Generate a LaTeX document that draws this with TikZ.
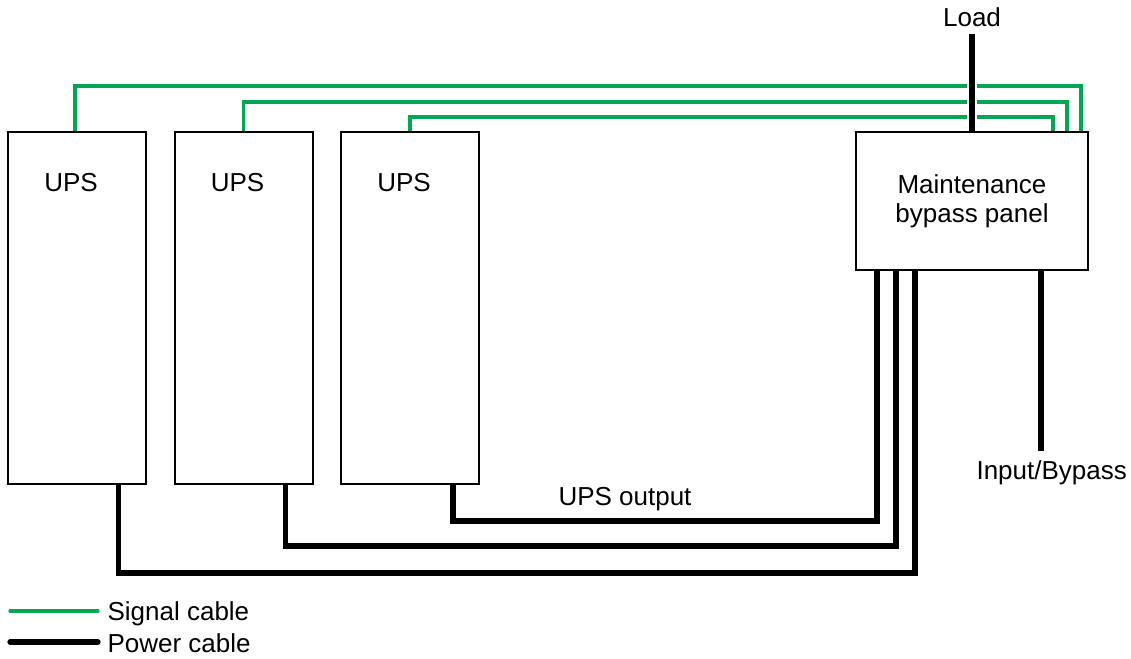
\documentclass[tikz,border=0pt]{standalone}
\usepackage{fontspec}
\setmainfont{Liberation Sans}
\usetikzlibrary{
    calc,
    positioning
}
\definecolor{ink}{RGB}{0,0,0}
\definecolor{signalgreen}{RGB}{0,166,81}
\tikzset{
    unitbox/.style={
        rectangle,
        draw=ink,
        line width=1.5pt,
        fill=white,
        inner sep=0pt
    },
    upsbox/.style={
        unitbox,
        minimum width=103.5pt,
        minimum height=264pt
    },
    panelbox/.style={
        unitbox,
        minimum width=174pt,
        minimum height=103.5pt,
        align=center,
        font=\fontsize{19.5}{22}\selectfont
    },
    boxtext/.style={
        font=\fontsize{19.5}{22}\selectfont,
        text=ink,
        inner sep=0pt
    },
    signal/.style={
        draw=signalgreen,
        line width=2.4pt
    },
    power/.style={
        draw=ink,
        line width=3.9pt
    },
    gapline/.style={
        draw=white,
        line width=7pt
    }
}

\begin{document}
\begin{tikzpicture}[x=0.75pt, y=-0.75pt]
\useasboundingbox (0,0) rectangle (1131,659);

% Units
\node[upsbox] (ups1) at (77,308) {};
\node[upsbox] (ups2) at (243.5,308) {};
\node[upsbox] (ups3) at (410,308) {};
\node[panelbox] (panel) at (972,201) {Maintenance\\bypass panel};

\foreach \n in {1,2,3} {
    \node[boxtext] at ([xshift=-4.5pt, yshift=-39pt]ups\n.north) {UPS};
}

% Signal cables
\draw[signal] ([xshift=-1.5pt]ups1.north) -- ++(0,-45) -| ([xshift=-6pt]panel.north east);
\draw[signal] (ups2.north) -- ++(0,-29) -| ([xshift=-16.5pt]panel.north east);
\draw[signal] (ups3.north) -- ++(0,-14) -| ([xshift=-27pt]panel.north east);

% Load
\coordinate (load) at ([yshift=72.75pt]panel.north);
\draw[gapline] (load) -- ([yshift=6pt]panel.north);
\draw[power] (load) -- (panel.north);
\node[boxtext, anchor=south] at ([yshift=5pt]load) {Load};

% Power cables
\draw[power] ([xshift=31pt]ups1.south) -- ++(0,88) -| ([xshift=45pt]panel.south west);
\draw[power] ([xshift=31.5pt]ups2.south) -- ++(0,61) -| ([xshift=30.75pt]panel.south west);
\draw[power] ([xshift=32.25pt]ups3.south) -- ++(0,36) -| ([xshift=16.5pt]panel.south west);
\node[boxtext] at (625,499) {UPS output};

% Input
\coordinate (input) at ([xshift=51.75pt, yshift=-135pt]panel.south);
\draw[power] (panel.south -| input) -- (input);
\node[boxtext, anchor=north] at ([xshift=8pt, yshift=-7pt]input) {Input/Bypass};

% Legend
\coordinate (sigA) at (10,611);
\coordinate (sigB) at (98,611);
\coordinate (powA) at (10,642);
\coordinate (powB) at (98,642);
\draw[signal, line cap=round] (sigA) -- (sigB);
\draw[power, line cap=round] (powA) -- (powB);
\node[boxtext, anchor=west] at ([xshift=7pt, yshift=-2pt]sigB) {Signal cable};
\node[boxtext, anchor=west] at ([xshift=7pt, yshift=-1pt]powB) {Power cable};
\end{tikzpicture}
\end{document}
